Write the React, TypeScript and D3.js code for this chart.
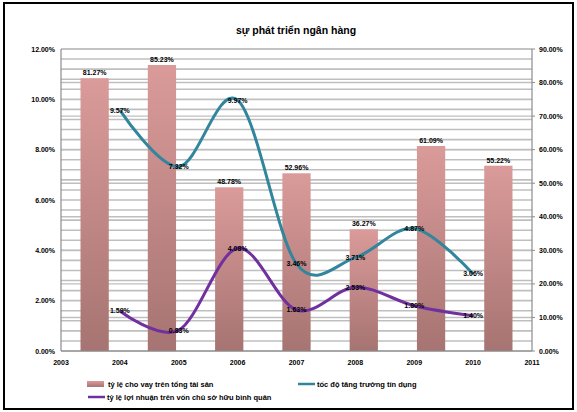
import React from "react";
import * as d3 from "d3";

// Bar series (right axis, %) and two smoothed line series (left axis, %)
const categories = ["2004", "2005", "2006", "2007", "2008", "2009", "2010"];
const lineYears = [2004, 2005, 2006, 2007, 2008, 2009, 2010];
const barValues = [81.27, 85.23, 48.78, 52.96, 36.27, 61.09, 55.22];
const tealValues = [9.57, 7.32, 9.97, 3.46, 3.71, 4.87, 3.06];
const purpleValues = [1.59, 0.83, 4.08, 1.63, 2.53, 1.8, 1.4];
const leftTicks = [0, 2, 4, 6, 8, 10, 12];
const rightTicks = [0, 10, 20, 30, 40, 50, 60, 70, 80, 90];
const yearTicks = [2003, 2004, 2005, 2006, 2007, 2008, 2009, 2010, 2011];

const title = "sự phát triển ngân hàng";
const legendBar = "tỷ lệ cho vay trên tổng tài sản";
const legendTeal = "tốc độ tăng trưởng tín dụng";
const legendPurple = "tỷ lệ lợi nhuận trên vốn chủ sở hữu bình quân";

const W = 577;
const H = 412;
const plot = { left: 61, right: 532, top: 49, bottom: 351 };
const FONT = "'Liberation Sans', Arial, sans-serif";
const TEAL = "#31859c";
const PURPLE = "#7030a0";
const GRID = "#bfbfbf";
const AXIS = "#8c8c8c";

export default function App() {
  const xBand = d3
    .scaleBand<string>()
    .domain(categories)
    .range([plot.left, plot.right])
    .paddingInner(0.58)
    .paddingOuter(0.29);
  const xYear = d3.scaleLinear().domain([2003, 2011]).range([plot.left, plot.right]);
  const yLeft = d3.scaleLinear().domain([0, 12]).range([plot.bottom, plot.top]);
  const yRight = d3.scaleLinear().domain([0, 90]).range([plot.bottom, plot.top]);

  // smoothed lines, cardinal spline with zero tension
  const line = d3
    .line<number>()
    .x((_, i) => xYear(lineYears[i]))
    .y((v) => yLeft(v))
    .curve(d3.curveCardinal.tension(0));

  const minorLeft = d3.range(0, 12.0001, 0.4);
  const pct = (v: number) => v.toFixed(2) + "%";

  return (
    <svg
      width={W}
      height={H}
      style={{ position: "absolute", left: 0, top: 0, background: "#fff" }}
      fontFamily={FONT}
    >
      <defs>
        <linearGradient id="barFill" x1="0" y1="0" x2="0" y2="1">
          <stop offset="0%" stopColor="#da9b9a" />
          <stop offset="100%" stopColor="#a67472" />
        </linearGradient>
      </defs>
      <rect x={0} y={0} width={W} height={H} fill="#fff" />
      <rect x={4} y={3} width={569} height={406} fill="none" stroke="#000" strokeWidth={2} />

      <text x={296} y={34} textAnchor="middle" fontSize={10.5} fontWeight="bold">
        {title}
      </text>

      {/* gridlines */}
      {minorLeft.map((v, i) => (
        <line key={"gl" + i} x1={plot.left} x2={plot.right} y1={yLeft(v)} y2={yLeft(v)} stroke={GRID} strokeWidth={1.6} />
      ))}
      {rightTicks.map((v) => (
        <line key={"gr" + v} x1={plot.left} x2={plot.right} y1={yRight(v)} y2={yRight(v)} stroke={GRID} strokeWidth={1.4} />
      ))}

      {/* bars */}
      {categories.map((c, i) => (
        <rect
          key={"b" + c}
          x={xBand(c)}
          y={yRight(barValues[i])}
          width={xBand.bandwidth()}
          height={plot.bottom - yRight(barValues[i])}
          fill="url(#barFill)"
        />
      ))}
      {categories.map((c, i) => (
        <text
          key={"bl" + c}
          x={(xBand(c) as number) + xBand.bandwidth() / 2}
          y={yRight(barValues[i]) - 3}
          textAnchor="middle"
          fontSize={7}
          fontWeight="bold"
        >
          {pct(barValues[i])}
        </text>
      ))}

      {/* axes */}
      <line x1={plot.left} x2={plot.left} y1={plot.top} y2={plot.bottom} stroke={AXIS} strokeWidth={1.2} />
      <line x1={plot.right} x2={plot.right} y1={plot.top} y2={plot.bottom} stroke={AXIS} strokeWidth={1.2} />
      <line x1={plot.left} x2={plot.right} y1={plot.bottom} y2={plot.bottom} stroke={AXIS} strokeWidth={1.2} />
      {rightTicks.map((v) => (
        <line key={"rt" + v} x1={plot.right} x2={plot.right + 3} y1={yRight(v)} y2={yRight(v)} stroke={AXIS} />
      ))}
      {leftTicks.map((v) => (
        <text key={"lt" + v} x={55} y={yLeft(v) + 2.5} textAnchor="end" fontSize={7} fontWeight="bold">
          {pct(v)}
        </text>
      ))}
      {rightTicks.map((v) => (
        <text key={"rl" + v} x={539} y={yRight(v) + 2.5} textAnchor="start" fontSize={7} fontWeight="bold">
          {pct(v)}
        </text>
      ))}
      {yearTicks.map((y) => (
        <text key={"yt" + y} x={xYear(y)} y={365} textAnchor="middle" fontSize={7} fontWeight="bold">
          {y}
        </text>
      ))}

      {/* lines */}
      <path d={line(tealValues) || ""} fill="none" stroke={TEAL} strokeWidth={3} />
      <path d={line(purpleValues) || ""} fill="none" stroke={PURPLE} strokeWidth={3} />
      {tealValues.map((v, i) => (
        <text key={"tl" + i} x={xYear(lineYears[i])} y={yLeft(v) + 2.5} textAnchor="middle" fontSize={7} fontWeight="bold">
          {pct(v)}
        </text>
      ))}
      {purpleValues.map((v, i) => (
        <text key={"pl" + i} x={xYear(lineYears[i])} y={yLeft(v) + 2.5} textAnchor="middle" fontSize={7} fontWeight="bold">
          {pct(v)}
        </text>
      ))}

      {/* legend */}
      <rect x={87} y={381} width={17} height={6} fill="url(#barFill)" />
      <text x={108} y={386.5} fontSize={7.5} fontWeight="bold">{legendBar}</text>
      <line x1={298} x2={315} y1={384} y2={384} stroke={TEAL} strokeWidth={2.5} />
      <text x={317} y={386.5} fontSize={7.5} fontWeight="bold">{legendTeal}</text>
      <line x1={88} x2={105} y1={397} y2={397} stroke={PURPLE} strokeWidth={2.5} />
      <text x={107} y={399.5} fontSize={7.5} fontWeight="bold">{legendPurple}</text>
    </svg>
  );
}
